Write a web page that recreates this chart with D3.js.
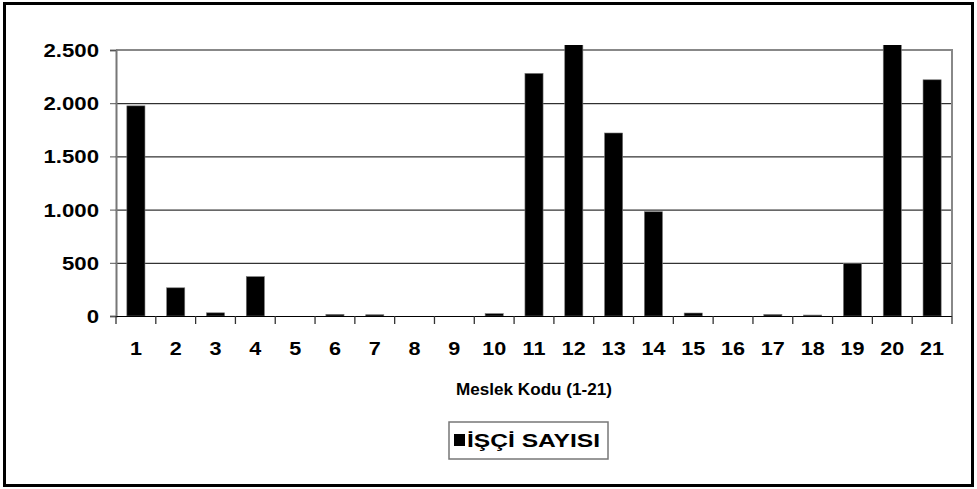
<!DOCTYPE html>
<html><head><meta charset="utf-8">
<script src="https://cdn.jsdelivr.net/npm/d3@7"></script>
<style>body{margin:0;background:#fff}svg text{font-family:"Liberation Sans",Arial,sans-serif;font-weight:bold;fill:#000}</style>
</head><body><svg id="c" width="977" height="489"></svg>
<script>
const categories = ["1","2","3","4","5","6","7","8","9","10","11","12","13","14","15","16","17","18","19","20","21"];
const values = [1975,265,30,370,0,15,12,0,0,22,2280,2560,1720,980,28,0,14,9,495,2560,2220];
const yTicks = [0,500,1000,1500,2000,2500];
const yTickLabels = ["0","500","1.000","1.500","2.000","2.500"];
const seriesName = "İŞÇİ SAYISI";
const xTitle = "Meslek Kodu (1-21)";

const svg = d3.select("#c");
const L = 116, R = 952, T = 50, B = 316;
const x = d3.scaleBand().domain(categories).range([L, R]).paddingInner(0.545).paddingOuter(0.2725);
const y = d3.scaleLinear().domain([0, 2500]).range([B, T]);
const SX = 1.2;

// outer border
svg.append("rect").attr("x",4.5).attr("y",3.5).attr("width",968).attr("height",482)
  .attr("fill","none").attr("stroke","#000").attr("stroke-width",3);

// gridlines
svg.append("g").selectAll("line").data(yTicks.filter(d=>d>0 && d<2500)).join("line")
  .attr("x1",L).attr("x2",R).attr("y1",d=>y(d)+0.5).attr("y2",d=>y(d)+0.5)
  .attr("stroke","#000").attr("stroke-width",1);

// plot area border (top & right) gray
svg.append("path").attr("d",`M${L},${T}H${R}V${B}`).attr("fill","none").attr("stroke","#888").attr("stroke-width",2);

// clip
svg.append("clipPath").attr("id","clip").append("rect").attr("x",L).attr("y",T-5).attr("width",R-L).attr("height",B-T+5);

// bars
svg.append("g").attr("clip-path","url(#clip)").selectAll("rect").data(values).join("rect")
  .attr("x",(d,i)=>x(categories[i])).attr("width",x.bandwidth())
  .attr("y",d=>y(d)).attr("height",d=>B-y(d))
  .attr("fill","#000").attr("stroke","#777").attr("stroke-width",0.6);

// y axis
const yAxis = svg.append("g").attr("transform",`translate(${L},0)`)
  .call(d3.axisLeft(y).tickValues(yTicks).tickSize(6).tickFormat((d,i)=>yTickLabels[i]));
yAxis.select(".domain").attr("stroke","#777").attr("stroke-width",2);
yAxis.selectAll(".tick line").attr("stroke","#555");
yAxis.selectAll(".tick text").attr("font-size",18.5)
  .attr("transform",`scale(${SX},1)`).attr("dy","0.35em")
  .attr("x",-17/SX);

// x axis
const xAxis = svg.append("g").attr("transform",`translate(0,${B})`)
  .call(d3.axisBottom(x).tickSize(0).tickPadding(0));
xAxis.select(".domain").remove();
xAxis.append("line").attr("x1",L).attr("x2",R).attr("y1",0.5).attr("y2",0.5).attr("stroke","#000").attr("stroke-width",1.2);
const bounds = d3.range(categories.length+1).map(i=>L + i*(R-L)/categories.length);
xAxis.selectAll(".bt").data(bounds).join("line").attr("class","bt")
  .attr("x1",d=>d).attr("x2",d=>d).attr("y1",0).attr("y2",8).attr("stroke","#333").attr("stroke-width",1.3);
xAxis.selectAll(".tick text").attr("font-size",18).attr("y",0).attr("dy",0)
  .attr("transform",`translate(0,39) scale(${SX},1)`).attr("x",0);
xAxis.selectAll(".tick").each(function(d){
  const cx = x(d)+x.bandwidth()/2;
  d3.select(this).attr("transform",`translate(${cx},0)`);
});

// x title
svg.append("text").attr("x",456).attr("y",395).attr("font-size",16.5)
  .attr("textLength",156).attr("lengthAdjust","spacingAndGlyphs").text(xTitle);

// legend
svg.append("rect").attr("x",449).attr("y",422).attr("width",159).attr("height",37)
  .attr("fill","#fff").attr("stroke","#777").attr("stroke-width",1.5);
svg.append("rect").attr("x",454).attr("y",434).attr("width",11).attr("height",12).attr("fill","#000");
svg.append("text").attr("x",467).attr("y",447).attr("font-size",18)
  .attr("textLength",133).attr("lengthAdjust","spacingAndGlyphs").text(seriesName);
</script></body></html>
